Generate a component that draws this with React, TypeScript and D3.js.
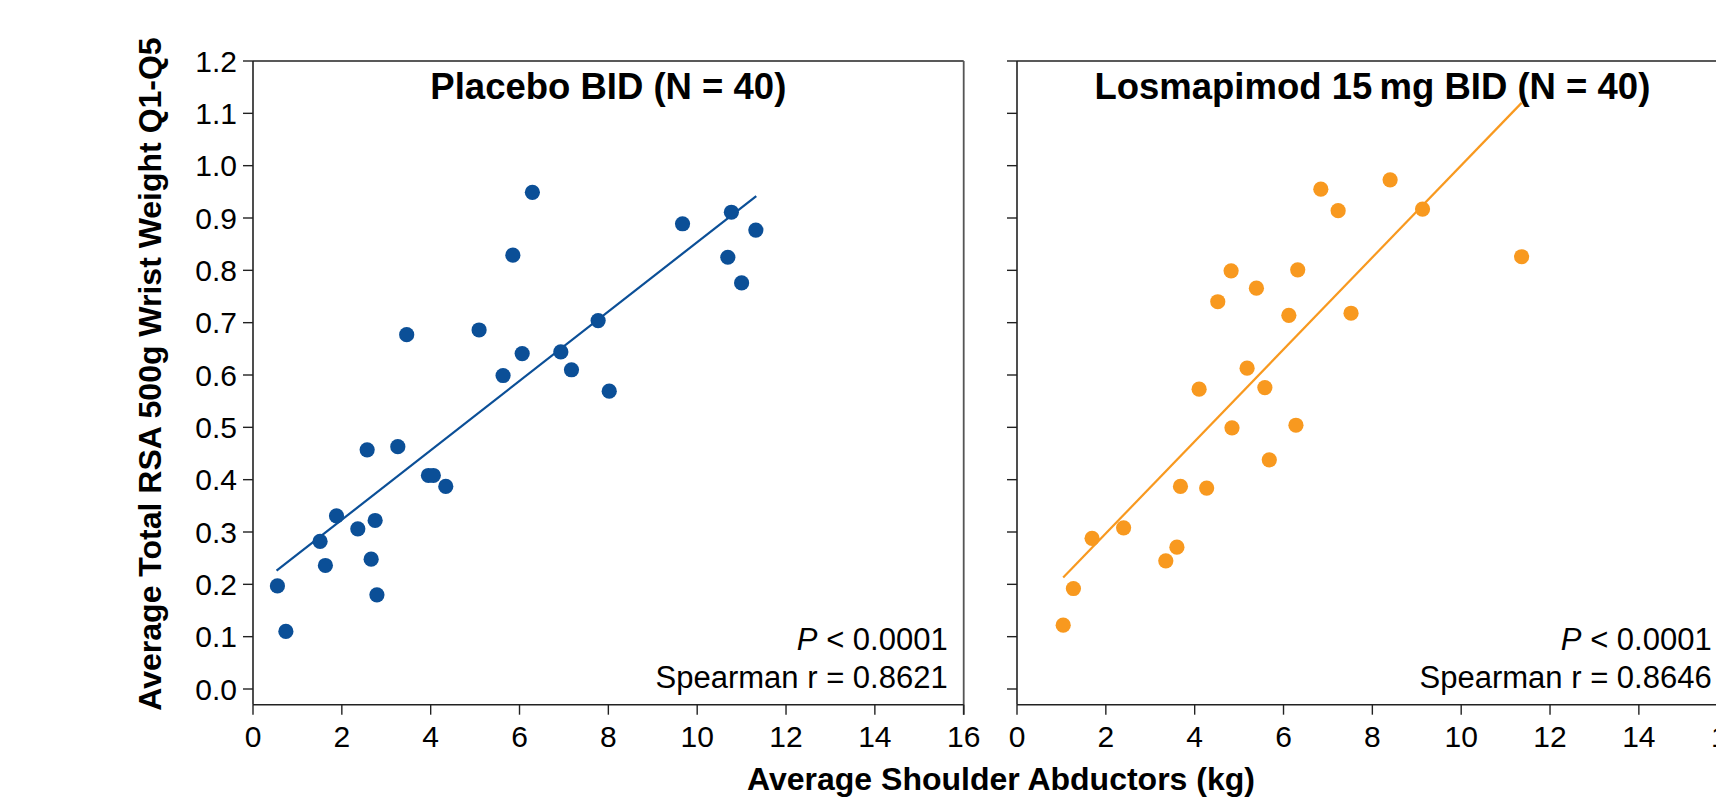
import React from "react";
import * as d3 from "d3";

const placeboX = [6.29, 9.67, 10.77, 11.32, 5.85, 10.69, 11.0, 3.46, 5.09, 7.77, 6.06, 6.93, 5.63, 7.17, 8.02, 2.57, 3.26, 3.95, 4.06, 4.34, 1.88, 2.75, 2.36, 1.51, 1.63, 2.66, 0.55, 2.79, 0.74];
const placeboY = [0.949, 0.889, 0.911, 0.877, 0.829, 0.825, 0.776, 0.677, 0.686, 0.704, 0.641, 0.644, 0.599, 0.61, 0.569, 0.457, 0.463, 0.408, 0.408, 0.387, 0.331, 0.322, 0.306, 0.282, 0.236, 0.248, 0.197, 0.18, 0.11];
const losX = [8.4, 6.84, 7.23, 9.13, 11.36, 4.82, 6.32, 5.39, 4.52, 6.12, 7.52, 5.18, 4.1, 5.58, 4.84, 6.28, 5.68, 3.68, 4.27, 2.4, 1.69, 3.6, 3.35, 1.27, 1.04];
const losY = [0.973, 0.955, 0.914, 0.917, 0.826, 0.799, 0.801, 0.766, 0.74, 0.714, 0.718, 0.613, 0.573, 0.576, 0.499, 0.504, 0.438, 0.387, 0.384, 0.308, 0.288, 0.271, 0.245, 0.192, 0.122];
const placeboFitX = [0.53, 11.33];
const placeboFitY = [0.226, 0.942];
const losFitX = [1.04, 11.36];
const losFitY = [0.213, 1.12];

const xTicks = [0, 2, 4, 6, 8, 10, 12, 14, 16];
const yTicks = [0, 0.1, 0.2, 0.3, 0.4, 0.5, 0.6, 0.7, 0.8, 0.9, 1.0, 1.1, 1.2];

const titles = ["Placebo BID (N = 40)", "Losmapimod 15\u2009mg BID (N = 40)"];
const spearman = ["0.8621", "0.8646"];
const yLabel = "Average Total RSA 500g Wrist Weight Q1-Q5";
const xLabel = "Average Shoulder Abductors (kg)";

const BLUE = "#0b4f97";
const ORANGE = "#f8991f";
const FONT = "'Liberation Sans', Arial, Helvetica, sans-serif";

const W = 1716;
const H = 797;
const TOP = 61;
const BOTTOM = 704.7;

function Panel({ x0, xs, ys, fx, fy, color, title, r, showYLabels, rho }) {
  const x = d3.scaleLinear().domain([0, 16]).range([x0, x0 + 710.7]);
  const y = d3.scaleLinear().domain([0, 1.2]).range([689, TOP]);
  const right = x(16);
  const line = d3.line<number>().x((d, i) => x(fx[i])).y((d, i) => y(fy[i]));
  return (
    <g>
      <text x={(x0 + right) / 2} y={98.5} textAnchor="middle" fontFamily={FONT} fontWeight="bold" fontSize={36.5}>{title}</text>
      <line x1={x0} x2={right} y1={TOP} y2={TOP} stroke="#222" strokeWidth={1.6} />
      <line x1={right} x2={right} y1={TOP} y2={BOTTOM + 10} stroke="#555" strokeWidth={1.8} />
      <line x1={x0} x2={x0} y1={TOP} y2={BOTTOM} stroke="#222" strokeWidth={1.6} />
      <line x1={x0} x2={right} y1={BOTTOM} y2={BOTTOM} stroke="#222" strokeWidth={1.6} />
      {yTicks.map((t) => (
        <g key={"y" + t}>
          <line x1={x0 - 10} x2={x0} y1={y(t)} y2={y(t)} stroke="#222" strokeWidth={1.4} />
          {showYLabels && (
            <text x={x0 - 16} y={y(t)} dy="0.36em" textAnchor="end" fontFamily={FONT} fontSize={30}>{t.toFixed(1)}</text>
          )}
        </g>
      ))}
      {xTicks.map((t) => (
        <g key={"x" + t}>
          <line x1={x(t)} x2={x(t)} y1={BOTTOM} y2={BOTTOM + 10} stroke="#222" strokeWidth={1.4} />
          <text x={x(t)} y={746.5} textAnchor="middle" fontFamily={FONT} fontSize={30}>{t}</text>
        </g>
      ))}
      <path d={line(fx) || ""} stroke={color} strokeWidth={2.2} fill="none" />
      {xs.map((v, i) => (
        <circle key={i} cx={x(v)} cy={y(ys[i])} r={r} fill={color} />
      ))}
      <text x={right - 16} y={650} textAnchor="end" fontFamily={FONT} fontSize={31}>
        <tspan fontStyle="italic">P</tspan>
        <tspan>{" < 0.0001"}</tspan>
      </text>
      <text x={right - 16} y={688} textAnchor="end" fontFamily={FONT} fontSize={31}>{"Spearman r = " + rho}</text>
    </g>
  );
}

export default function App() {
  return (
    <svg width={W} height={H} style={{ position: "absolute", left: 0, top: 0, display: "block", background: "#fff" }}>
      <rect x={0} y={0} width={W} height={H} fill="#fff" />
      <Panel x0={253} xs={placeboX} ys={placeboY} fx={placeboFitX} fy={placeboFitY} color={BLUE} title={titles[0]} r={7.6} showYLabels={true} rho={spearman[0]} />
      <Panel x0={1017} xs={losX} ys={losY} fx={losFitX} fy={losFitY} color={ORANGE} title={titles[1]} r={7.6} showYLabels={false} rho={spearman[1]} />
      <text transform="translate(161,374) rotate(-90)" textAnchor="middle" fontFamily={FONT} fontWeight="bold" fontSize={32}>{yLabel}</text>
      <text x={1001} y={790} textAnchor="middle" fontFamily={FONT} fontWeight="bold" fontSize={32}>{xLabel}</text>
    </svg>
  );
}
